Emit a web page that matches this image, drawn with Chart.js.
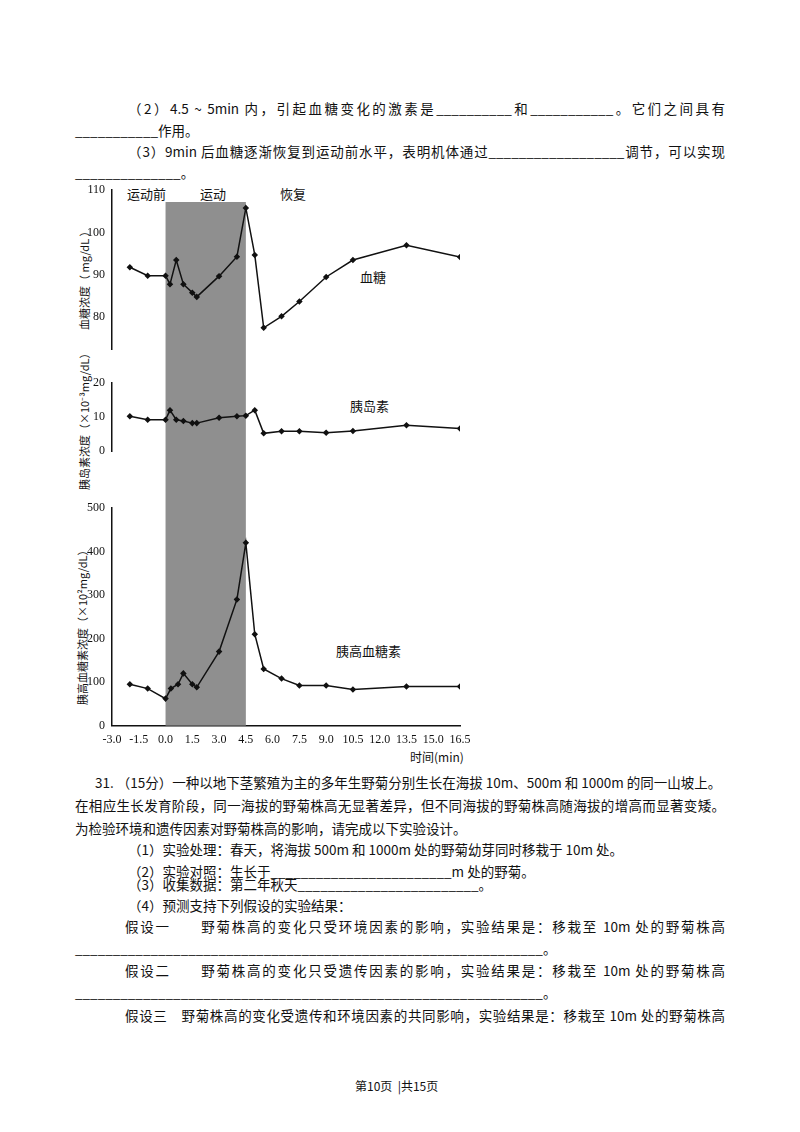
<!DOCTYPE html>
<html><head><meta charset="utf-8">
<script src="https://cdn.jsdelivr.net/npm/chart.js@4"></script>
<style>
body{margin:0;width:800px;height:1132px;background:#fff;position:relative;font-family:"Noto Sans CJK SC",sans-serif;color:#111}
.t{position:absolute;font-size:13.5px;white-space:nowrap;line-height:16px}
.j{text-align:justify;text-align-last:justify;white-space:normal}
.lab{position:absolute;font-size:13px;white-space:nowrap}
.vt{position:absolute;font-size:11px;white-space:nowrap;transform-origin:left top;transform:rotate(-90deg)}
canvas{position:absolute}
</style></head><body>
<div class="t j" style="left:128px;top:100px;width:597px">（2）4.5 ~ 5min 内，引起血糖变化的激素是__________和___________。它们之间具有</div>
<div class="t" style="left:75px;top:122px">___________作用。</div>
<div class="t j" style="left:128px;top:143px;width:597px">（3）9min 后血糖逐渐恢复到运动前水平，表明机体通过__________________调节，可以实现</div>
<div class="t" style="left:75px;top:164px">______________。</div>

<div class="lab" style="left:127px;top:184px">运动前</div>
<div class="lab" style="left:200px;top:184px">运动</div>
<div class="lab" style="left:280px;top:184px">恢复</div>
<div class="lab" style="left:360px;top:267px">血糖</div>
<div class="lab" style="left:350px;top:396px">胰岛素</div>
<div class="lab" style="left:336px;top:641px">胰高血糖素</div>
<div class="lab" style="left:410px;top:748px;font-size:12px">时间(min)</div>
<div class="vt" style="left:76px;top:330px">血糖浓度（ mg/dL ）</div>
<div class="vt" style="left:76px;top:490px">胰岛素浓度（×10⁻³mg/dL）</div>
<div class="vt" style="left:74px;top:705px">胰高血糖素浓度（×10²mg/dL）</div>

<canvas id="c1" style="left:60px;top:180px" width="420" height="180"></canvas>
<canvas id="c2" style="left:60px;top:360px" width="420" height="120"></canvas>
<canvas id="c3" style="left:60px;top:480px" width="420" height="270"></canvas>

<div class="t" style="left:95px;top:774px">31.&nbsp;（15分）一种以地下茎繁殖为主的多年生野菊分别生长在海拔 10m、500m 和 1000m 的同一山坡上。</div>
<div class="t j" style="left:75px;top:797px;width:650px">在相应生长发育阶段，同一海拔的野菊株高无显著差异，但不同海拔的野菊株高随海拔的增高而显著变矮。</div>
<div class="t" style="left:75px;top:820px">为检验环境和遗传因素对野菊株高的影响，请完成以下实验设计。</div>
<div class="t" style="left:128px;top:841px">（1）实验处理：春天，将海拔 500m 和 1000m 处的野菊幼芽同时移栽于 10m 处。</div>
<div class="t" style="left:128px;top:863px">（2）实验对照：生长于________________________m 处的野菊。</div>
<div class="t" style="left:128px;top:876px">（3）收集数据：第二年秋天________________________。</div>
<div class="t" style="left:128px;top:897px">（4）预测支持下列假设的实验结果：</div>
<div class="t j" style="left:125px;top:918px;width:600px">假设一　　野菊株高的变化只受环境因素的影响，实验结果是：移栽至 10m 处的野菊株高</div>
<div class="t" style="left:75px;top:940px">______________________________________________________________。</div>
<div class="t j" style="left:125px;top:962px;width:600px">假设二　　野菊株高的变化只受遗传因素的影响，实验结果是：移栽至 10m 处的野菊株高</div>
<div class="t" style="left:75px;top:984px">______________________________________________________________。</div>
<div class="t j" style="left:125px;top:1007px;width:600px">假设三　野菊株高的变化受遗传和环境因素的共同影响，实验结果是：移栽至 10m 处的野菊株高</div>
<div class="t" style="left:355px;top:1078px;font-size:12px">第10页 &nbsp;|共15页</div>

<script>
// 时间点 (min)
const timeG = [-2.0,-1.0,0.0,0.25,0.6,1.0,1.5,1.75,3.0,4.0,4.5,5.0,5.5,6.5,7.5,9.0,10.5,13.5,16.5];
const glucose = [91.8,89.8,89.8,87.8,93.5,87.8,85.8,84.8,89.7,94.3,105.8,94.7,77.5,80.2,83.7,89.5,93.5,97.0,94.2];
const insulin = [10.2,9.2,9.2,12.0,9.2,8.8,8.2,8.2,9.8,10.2,10.4,12.0,5.2,5.8,5.8,5.4,5.9,7.6,6.6];
const timeGl = [-2.0,-1.0,0.0,0.3,0.7,1.0,1.5,1.75,3.0,4.0,4.5,5.0,5.5,6.5,7.5,9.0,10.5,13.5,16.5];
const glucagon = [95,85,62,85,95,120,95,88,170,290,420,210,130,108,92,92,83,90,90];
const xTicks = [-3.0,-1.5,0.0,1.5,3.0,4.5,6.0,7.5,9.0,10.5,12.0,13.5,15.0,16.5];
const exercise = [0, 4.5];

function shade(topY, clipBottom) {
  return {
    id: 'shade',
    beforeDatasetsDraw(chart) {
      const x = chart.scales.x, c = chart.ctx;
      const x0 = x.getPixelForValue(exercise[0]), x1 = x.getPixelForValue(exercise[1]);
      const bottom = clipBottom ? chart.chartArea.bottom : chart.height;
      c.save();
      c.fillStyle = '#8f8f8f';
      c.fillRect(x0, topY, x1 - x0, bottom - topY);
      c.restore();
    }
  };
}

function make(id, t, v, yMin, yMax, yTicks, pad, showX, topY) {
  new Chart(document.getElementById(id), {
    type: 'line',
    data: { datasets: [{
      data: t.map((x, i) => ({x, y: v[i]})),
      borderColor: '#111', backgroundColor: '#111', borderWidth: 1.5,
      pointRadius: 2.2, pointStyle: 'rectRot', tension: 0
    }]},
    options: {
      responsive: false, animation: false,
      layout: { padding: { top: pad[0], bottom: pad[1], right: 20, left: 0 } },
      plugins: { legend: { display: false }, tooltip: { enabled: false } },
      scales: {
        x: {
          type: 'linear', min: -3.0, max: 16.5, display: showX,
          afterBuildTicks: s => { s.ticks = xTicks.map(value => ({value})); },
          grid: { display: false, drawTicks: true, tickLength: 4 },
          border: { color: '#111', width: 1.5 },
          ticks: { color: '#111', font: { family: 'Liberation Serif', size: 12 }, maxRotation: 0, autoSkip: false,
                   callback: v => v.toFixed(1) }
        },
        y: {
          min: yMin, max: yMax,
          afterBuildTicks: s => { s.ticks = yTicks.map(value => ({value})); },
          afterFit: s => { s.width = 52; },
          grid: { display: false, tickLength: 4 },
          border: { color: '#111', width: 1.5 },
          ticks: { color: '#111', font: { family: 'Liberation Serif', size: 12 } }
        }
      }
    },
    plugins: [shade(topY, showX)]
  });
}

make('c1', timeG, glucose, 72.3, 110, [80, 90, 100, 110], [10, 0], false, 22);
make('c2', timeG, insulin, 0, 20, [0, 10, 20], [23, 29], false, 0);
make('c3', timeGl, glucagon, 0, 500, [0, 100, 200, 300, 400, 500], [28, 0], true, 0);
</script>
</body></html>
